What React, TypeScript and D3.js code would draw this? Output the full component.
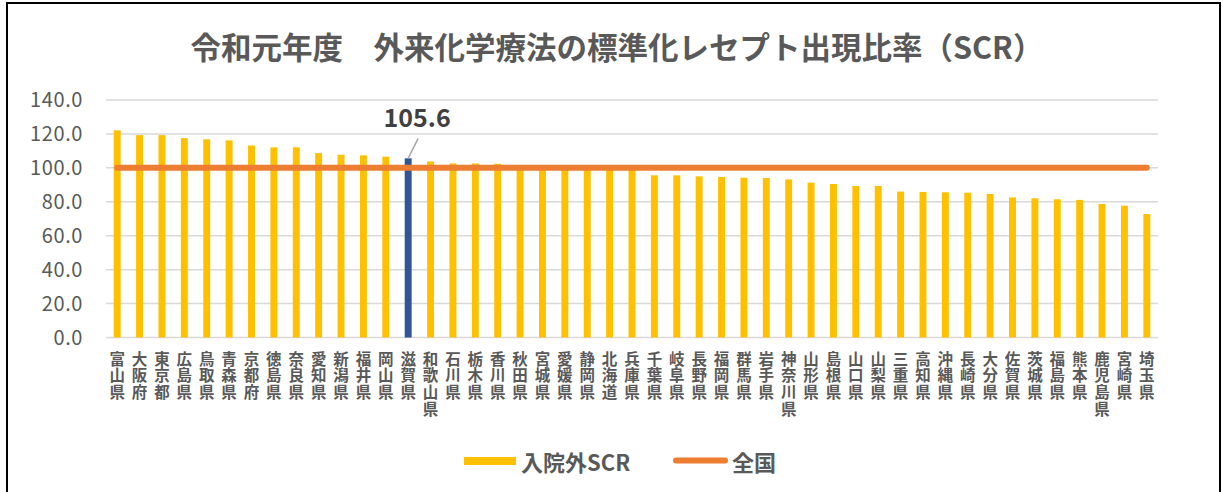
import React from "react";
import * as d3 from "d3";

const title = "令和元年度　外来化学療法の標準化レセプト出現比率（SCR）";
const prefectures = [
  "富山県","大阪府","東京都","広島県","鳥取県","青森県","京都府","徳島県","奈良県","愛知県",
  "新潟県","福井県","岡山県","滋賀県","和歌山県","石川県","栃木県","香川県","秋田県","宮城県",
  "愛媛県","静岡県","北海道","兵庫県","千葉県","岐阜県","長野県","福岡県","群馬県","岩手県",
  "神奈川県","山形県","島根県","山口県","山梨県","三重県","高知県","沖縄県","長崎県","大分県",
  "佐賀県","茨城県","福島県","熊本県","鹿児島県","宮崎県","埼玉県",
];
const scrValues = [
  122.1, 119.3, 119.3, 117.5, 116.8, 116.2, 113.2, 112.1, 112.1, 108.7,
  107.7, 107.4, 106.6, 105.6, 103.8, 102.6, 102.6, 102.4, 101.2, 100.9,
  100.6, 100.3, 100.1, 99.8, 95.6, 95.6, 95.0, 94.6, 94.2, 94.0,
  93.2, 91.3, 90.5, 89.3, 89.3, 86.0, 85.8, 85.6, 85.4, 84.6,
  82.6, 82.1, 81.5, 81.1, 78.7, 77.7, 72.8,
];
const nationalValue = 100;
const highlighted = "滋賀県";
const yTicks = [0, 20, 40, 60, 80, 100, 120, 140];
const seriesNames = ["入院外SCR", "全国"];

const W = 1223;
const H = 492;
const FONT = "'Noto Sans CJK JP', 'Noto Sans', sans-serif";
const GRAY = "#595959";

export default function App() {
  const left = 106, right = 1158, top = 100, bottom = 337.5;
  const x = d3.scaleBand<string>().domain(prefectures).range([left, right]).paddingInner(0.69).paddingOuter(0.345);
  const y = d3.scaleLinear().domain([0, 140]).range([bottom, top]);
  const cx = (p: string) => (x(p) as number) + x.bandwidth() / 2;
  const hiIdx = prefectures.indexOf(highlighted);
  const hiX = cx(highlighted);
  const hiY = y(scrValues[hiIdx]);
  const lineGen = d3.line<string>().x((p) => cx(p)).y(() => y(nationalValue));

  return (
    <svg width={W} height={H} style={{ position: "absolute", left: 0, top: 0, background: "#fff" }} fontFamily={FONT}>
      <rect x={0} y={0} width={W} height={H} fill="#fff" />
      <rect x={7} y={3} width={1213} height={500} fill="none" stroke="#000" strokeWidth={2} />
      <text x={617} y={59} textAnchor="middle" fontSize={30.5} fontWeight={700} fill={GRAY}>{title}</text>
      {yTicks.map((t) => (
        <g key={t}>
          <line x1={left} x2={right} y1={y(t)} y2={y(t)} stroke="#d9d9d9" strokeWidth={1.5} />
          <text x={83} y={y(t) + 7} textAnchor="end" fontSize={20} fill={GRAY} letterSpacing={0.6}>{t.toFixed(1)}</text>
        </g>
      ))}
      {prefectures.map((p, i) => (
        <rect key={p} x={x(p)} y={y(scrValues[i])} width={x.bandwidth()} height={y(0) - y(scrValues[i])}
          fill={p === highlighted ? "#2f5597" : "#ffc000"} />
      ))}
      <path d={lineGen(prefectures) || ""} fill="none" stroke="#ed7d31" strokeWidth={6} strokeLinecap="round" />
      <line x1={hiX + 10} y1={hiY - 20} x2={hiX} y2={hiY} stroke="#a6a6a6" strokeWidth={1.5} />
      <text x={hiX + 9} y={127} textAnchor="middle" fontSize={25} fontWeight={700} fill="#404040">{scrValues[hiIdx].toFixed(1)}</text>
      {prefectures.map((p) => (
        <text key={p} x={cx(p)} y={351} fontSize={15.5} fontWeight={700} fill={GRAY}
          style={{ writingMode: "vertical-rl", textOrientation: "upright" } as React.CSSProperties}
          letterSpacing={1.2}>{p}</text>
      ))}
      <rect x={464} y={457} width={52} height={8} fill="#ffc000" />
      <text x={521} y={471} fontSize={22} fontWeight={700} fill={GRAY}>{seriesNames[0]}</text>
      <line x1={676} x2={725} y1={460.5} y2={460.5} stroke="#ed7d31" strokeWidth={6} strokeLinecap="round" />
      <text x={732} y={471} fontSize={22} fontWeight={700} fill={GRAY}>{seriesNames[1]}</text>
    </svg>
  );
}
